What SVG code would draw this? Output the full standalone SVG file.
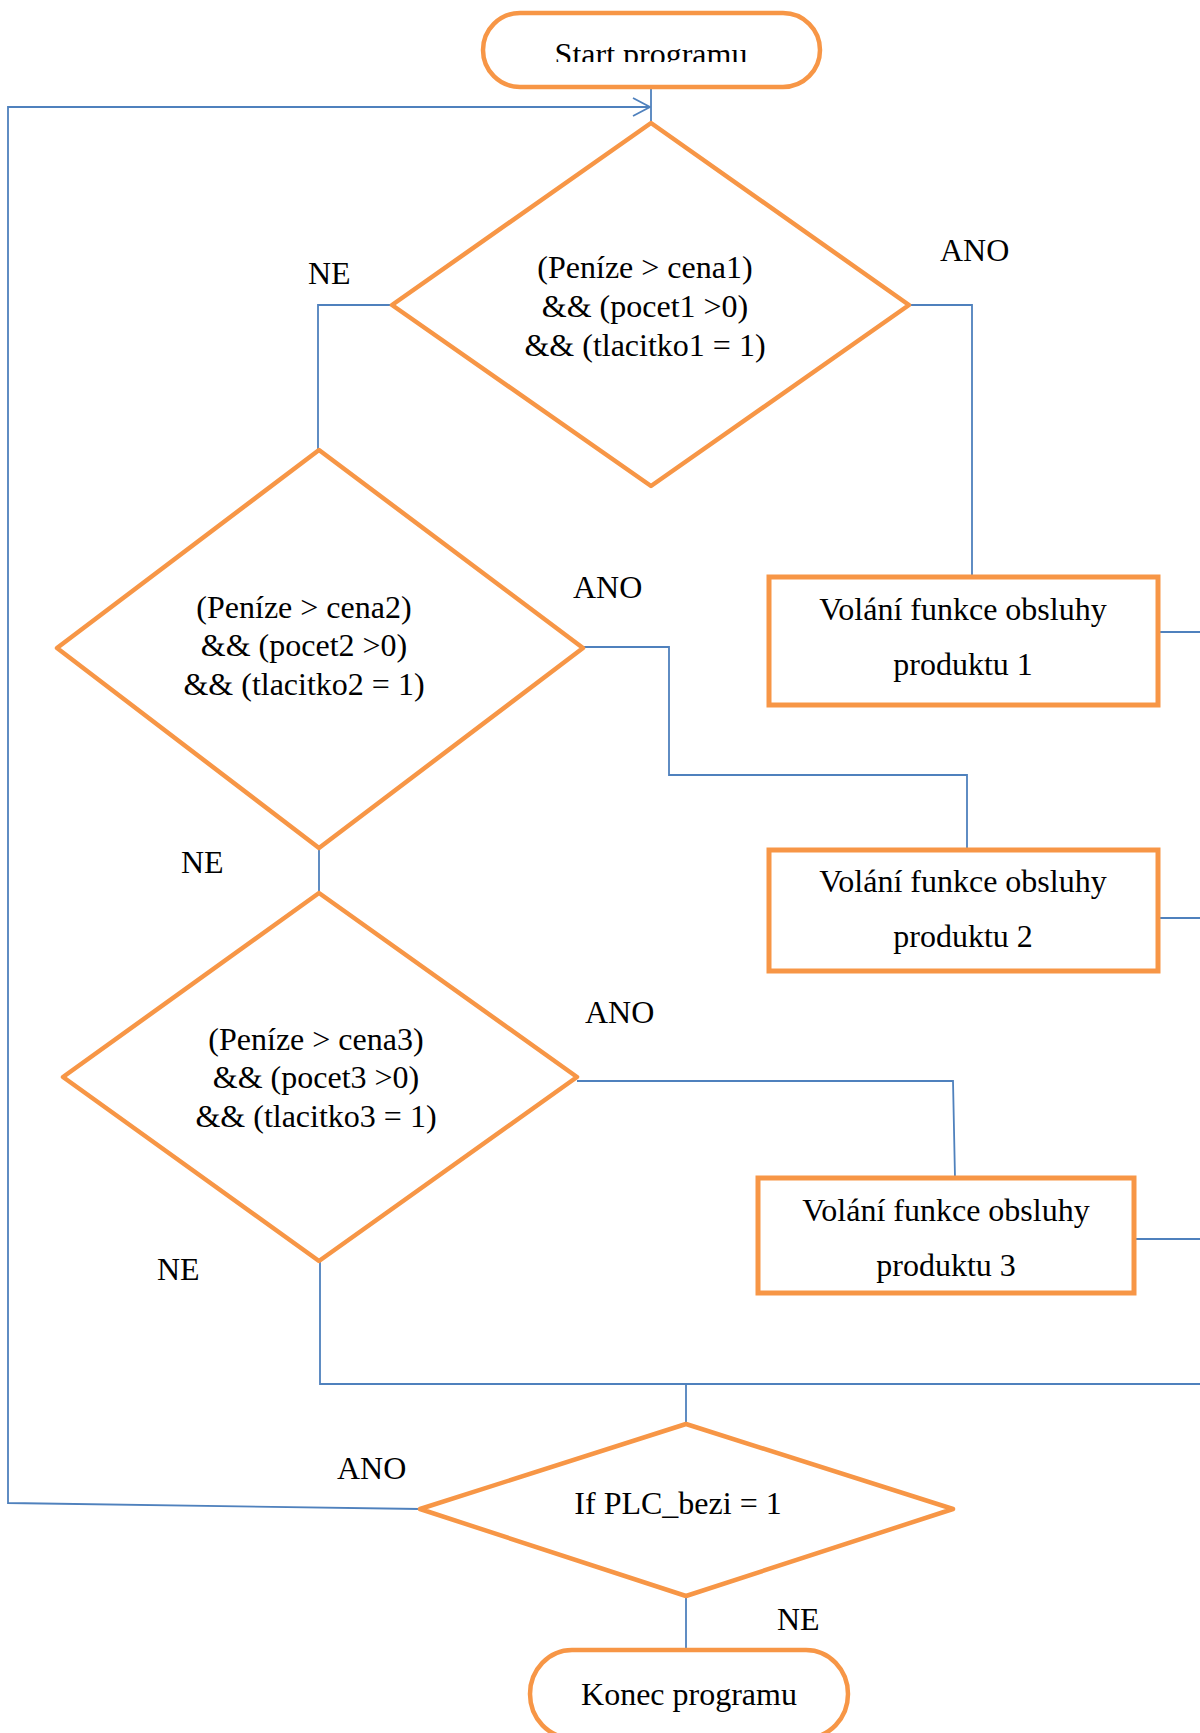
<svg xmlns="http://www.w3.org/2000/svg" width="1200" height="1733" viewBox="0 0 1200 1733">
<defs>
<style>
.sh{fill:#fff;stroke:#F79646;stroke-width:4.5;stroke-linejoin:round}
.bx{fill:#fff;stroke:#F79646;stroke-width:5}
.ln{fill:none;stroke:#4F81BD;stroke-width:1.8}
text{font-family:"Liberation Serif","Times New Roman",serif;font-size:32px;fill:#000}
.c{text-anchor:middle}
</style>
<marker id="arr" viewBox="0 0 20 20" refX="19" refY="10" markerWidth="20" markerHeight="20" markerUnits="userSpaceOnUse" orient="auto">
<path d="M2,1 L19,10 L2,19" fill="none" stroke="#4F81BD" stroke-width="1.8"/>
</marker>
<clipPath id="clipStart"><rect x="480" y="10" width="345" height="52"/></clipPath>
</defs>
<rect width="1200" height="1733" fill="#fff"/>
<g id="connectors">
<line class="ln" x1="651" y1="88" x2="651" y2="123"/>
<polyline class="ln" points="420,1509 8,1503 8,107 650,107" marker-end="url(#arr)"/>
<polyline class="ln" points="909,305 972,305 972,577"/>
<polyline class="ln" points="392,305 318,305 318,450"/>
<polyline class="ln" points="583,647 669,647 669,775 967,775 967,850"/>
<line class="ln" x1="319" y1="848" x2="319" y2="893"/>
<polyline class="ln" points="577,1081 953,1081 955,1178"/>
<line class="ln" x1="1158" y1="632" x2="1200" y2="632"/>
<line class="ln" x1="1158" y1="918" x2="1200" y2="918"/>
<line class="ln" x1="1134" y1="1239" x2="1200" y2="1239"/>
<polyline class="ln" points="320,1261 320,1384 1200,1384"/>
<line class="ln" x1="686" y1="1384" x2="686" y2="1424"/>
<line class="ln" x1="686" y1="1596" x2="686" y2="1650"/>
</g>
<g id="start">
<rect class="sh" x="483" y="13" width="337" height="74" rx="37"/>
<text class="c" x="651" y="65" clip-path="url(#clipStart)">Start programu</text>
</g>
<g id="cond1">
<polygon class="sh" points="651,123 909,305 651,486 392,305"/>
<text class="c" x="645" y="278">(Peníze &gt; cena1)</text>
<text class="c" x="645" y="317">&amp;&amp; (pocet1 &gt;0)</text>
<text class="c" x="645" y="356">&amp;&amp; (tlacitko1 = 1)</text>
</g>
<g id="cond2">
<polygon class="sh" points="319,450 583,648 319,848 57,648"/>
<text class="c" x="304" y="618">(Peníze &gt; cena2)</text>
<text class="c" x="304" y="656">&amp;&amp; (pocet2 &gt;0)</text>
<text class="c" x="304" y="695">&amp;&amp; (tlacitko2 = 1)</text>
</g>
<g id="cond3">
<polygon class="sh" points="319,893 577,1077 319,1261 63,1077"/>
<text class="c" x="316" y="1050">(Peníze &gt; cena3)</text>
<text class="c" x="316" y="1088">&amp;&amp; (pocet3 &gt;0)</text>
<text class="c" x="316" y="1127">&amp;&amp; (tlacitko3 = 1)</text>
</g>
<g id="box1">
<rect class="bx" x="769" y="577" width="389" height="128"/>
<text class="c" x="963" y="620">Volání funkce obsluhy</text>
<text class="c" x="963" y="675">produktu 1</text>
</g>
<g id="box2">
<rect class="bx" x="769" y="850" width="389" height="121"/>
<text class="c" x="963" y="892">Volání funkce obsluhy</text>
<text class="c" x="963" y="947">produktu 2</text>
</g>
<g id="box3">
<rect class="bx" x="758" y="1178" width="376" height="115"/>
<text class="c" x="946" y="1221">Volání funkce obsluhy</text>
<text class="c" x="946" y="1276">produktu 3</text>
</g>
<g id="cond4">
<polygon class="sh" points="686,1424 953,1509 686,1596 420,1509"/>
<text class="c" x="678" y="1514">If PLC_bezi = 1</text>
</g>
<g id="end">
<rect class="sh" x="530" y="1650" width="318" height="88" rx="42" ry="44"/>
<text class="c" x="689" y="1705">Konec programu</text>
</g>
<g id="labels">
<text x="308" y="284">NE</text>
<text x="940" y="261">ANO</text>
<text x="573" y="598">ANO</text>
<text x="181" y="873">NE</text>
<text x="585" y="1023">ANO</text>
<text x="157" y="1280">NE</text>
<text x="337" y="1479">ANO</text>
<text x="777" y="1630">NE</text>
</g>
</svg>
